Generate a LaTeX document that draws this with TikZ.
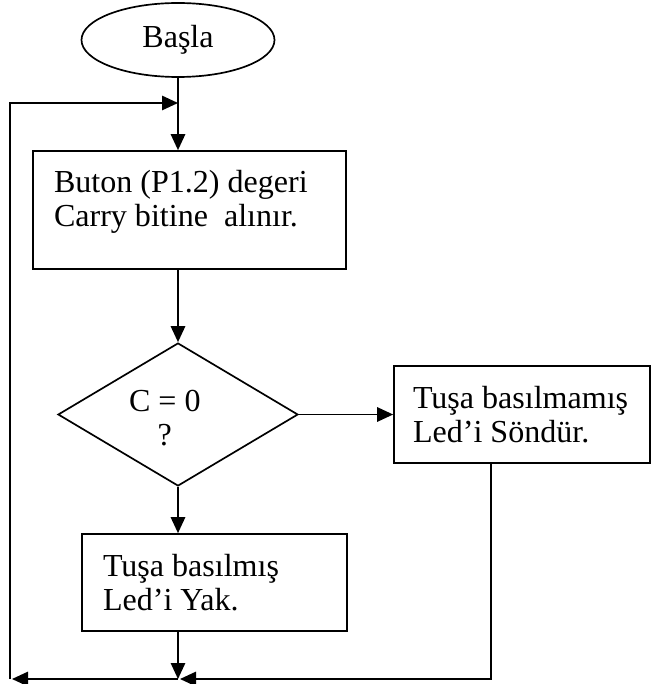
\documentclass[tikz,border=0pt]{standalone}
\usepackage{fontspec}
\setmainfont{Liberation Serif}
\usetikzlibrary{positioning, arrows.meta, shapes.geometric}

\tikzset{
	flowline/.style={line width=1.2pt},
	flowarrow/.style={flowline, -{Triangle[length=0.4cm,width=0.36cm]}},
	startnode/.style={draw, ellipse, line width=1.2pt, minimum width=4.825cm, minimum height=1.85cm, inner sep=0pt},
	procbox/.style={draw, rectangle, line width=1.2pt, align=flush left, inner xsep=0.525cm, inner ysep=0pt},
	decision/.style={draw, diamond, line width=1.2pt, minimum width=6cm, minimum height=3.575cm, inner sep=0pt}
}

\begin{document}
\begin{tikzpicture}[font=\fontsize{22.8}{24.2}\selectfont]
		
		\useasboundingbox (0,0) rectangle (16.3,-17.1);
		
		%Blocks
		\node[startnode] (start) at (4.45,-1.0){Başla};
		\node[procbox, text width=6.775cm, minimum height=2.95cm, text depth=1.45cm] (read) at (4.7375,-5.25){Buton (P1.2) degeri\\Carry bitine~ alınır.};
		\node[decision, label={[align=center, xshift=-0.33cm, yshift=-0.1cm]center:C = 0\\?}] (test) at (4.45,-10.3625){};
		\node[procbox, text width=5.45cm, inner xsep=0.475cm, minimum height=2.425cm] (ledoff) at (13.05,-10.3625){Tuşa basılmamış\\Led’i Söndür.};
		\node[procbox, text width=5.575cm, minimum height=2.425cm] (ledon) at (5.3625,-14.5625){Tuşa basılmış\\Led’i Yak.};
		
		%Loop corners
		\coordinate (top) at (4.45,-2.575);
		\coordinate (bl) at (0.25,-16.975);
		\coordinate (bm) at (4.45,-16.975);
		\coordinate (br) at (12.275,-16.975);
		
		%Arrows
		\draw[flowarrow] (start.south) -- (start.south |- read.north);
		\draw[flowarrow] (start.south |- read.south) -- (test.north);
		\draw[flowarrow] (test.east) -- (ledoff.west);
		\draw[flowarrow] (test.south) -- (test.south |- ledon.north);
		\draw[flowarrow] (test.south |- ledon.south) -- (bm);
		\draw[flowarrow] (br |- ledoff.south) -- (br) -- ([xshift=0.05cm]bm);
		\draw[flowarrow] (bm) -- ([xshift=0.05cm]bl);
		\draw[flowarrow] (bl) -- (bl |- top) -- (top);
		
\end{tikzpicture}
\end{document}
